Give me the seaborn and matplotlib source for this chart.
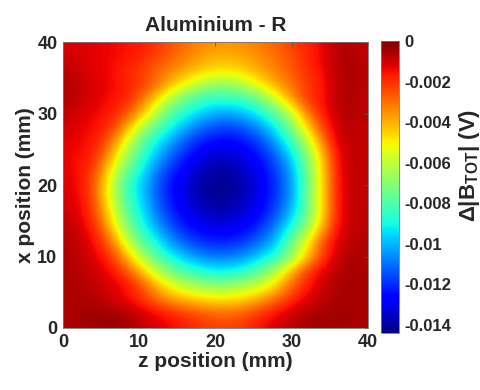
import matplotlib
matplotlib.use("Agg")
import matplotlib.pyplot as plt
import numpy as np
import seaborn as sns

# scan grid in mm; each row is one x position (0 mm at the bottom),
# entries are |delta B_TOT|, in units of 1e-4 V (sign is negative)
z_pos = list(range(0, 41, 2))
x_pos = list(range(0, 41, 2))
mag_x00 = [7, 5, 4, 3, 4, 7, 11, 14, 17, 20, 22, 22, 20, 15, 11, 7, 5, 4, 4, 5, 6]
mag_x02 = [6, 5, 4, 4, 5, 9, 13, 17, 21, 25, 28, 28, 25, 19, 14, 9, 6, 5, 5, 5, 6]
mag_x04 = [6, 6, 6, 10, 14, 19, 28, 36, 41, 45, 47, 47, 44, 38, 28, 20, 12, 8, 5, 5, 6]
mag_x06 = [6, 6, 8, 11, 14, 23, 38, 52, 61, 67, 70, 68, 62, 58, 45, 28, 18, 10, 6, 5, 6]
mag_x08 = [6, 7, 10, 14, 23, 39, 58, 73, 83, 87, 92, 91, 87, 76, 62, 40, 22, 12, 7, 5, 6]
mag_x10 = [6, 8, 12, 19, 36, 59, 78, 89, 99, 106, 109, 108, 104, 95, 87, 70, 44, 24, 9, 6, 6]
mag_x12 = [6, 9, 14, 27, 51, 75, 88, 103, 113, 119, 121, 121, 117, 109, 97, 73, 52, 24, 12, 7, 7]
mag_x14 = [7, 10, 18, 37, 65, 85, 99, 113, 122, 127, 130, 129, 126, 118, 107, 87, 68, 40, 14, 8, 8]
mag_x16 = [9, 12, 22, 45, 73, 89, 106, 119, 128, 134, 137, 136, 132, 125, 114, 98, 76, 47, 16, 8, 8]
mag_x18 = [11, 13, 24, 51, 77, 93, 110, 123, 131, 138, 141, 140, 136, 128, 118, 103, 76, 47, 16, 8, 9]
mag_x20 = [12, 14, 25, 53, 80, 95, 111, 124, 132, 139, 142, 141, 137, 129, 119, 104, 77, 47, 16, 8, 9]
mag_x22 = [13, 15, 22, 46, 72, 89, 106, 119, 128, 136, 140, 139, 135, 127, 117, 102, 75, 46, 15, 8, 9]
mag_x24 = [13, 15, 18, 36, 62, 81, 97, 112, 122, 130, 135, 134, 130, 123, 112, 95, 72, 44, 14, 8, 9]
mag_x26 = [12, 14, 16, 27, 50, 74, 90, 102, 114, 122, 126, 127, 123, 116, 103, 84, 62, 34, 11, 8, 9]
mag_x28 = [10, 13, 15, 19, 35, 59, 78, 89, 102, 111, 116, 117, 113, 105, 91, 72, 47, 24, 9, 7, 9]
mag_x30 = [8, 11, 14, 16, 23, 38, 58, 80, 87, 96, 102, 103, 98, 90, 77, 60, 33, 17, 9, 6, 9]
mag_x32 = [6, 9, 12, 15, 17, 27, 44, 62, 76, 84, 86, 85, 83, 73, 57, 37, 21, 16, 7, 6, 9]
mag_x34 = [6, 8, 11, 14, 17, 21, 28, 41, 53, 63, 69, 68, 61, 49, 38, 30, 22, 17, 8, 6, 8]
mag_x36 = [7, 10, 13, 14, 18, 22, 28, 33, 38, 43, 47, 47, 44, 38, 33, 27, 20, 15, 7, 6, 8]
mag_x38 = [10, 11, 13, 14, 15, 18, 22, 27, 32, 37, 40, 40, 38, 34, 30, 25, 19, 14, 6, 6, 9]
mag_x40 = [12, 12, 13, 14, 15, 17, 20, 25, 29, 33, 35, 35, 34, 31, 27, 23, 18, 14, 7, 7, 10]

cbar_ticks = [0, -0.002, -0.004, -0.006, -0.008, -0.01, -0.012, -0.014]
cbar_labels = ["0", "-0.002", "-0.004", "-0.006", "-0.008", "-0.01", "-0.012", "-0.014"]
axis_ticks = [0, 10, 20, 30, 40]

rows = [mag_x00, mag_x02, mag_x04, mag_x06, mag_x08, mag_x10, mag_x12,
        mag_x14, mag_x16, mag_x18, mag_x20, mag_x22, mag_x24, mag_x26,
        mag_x28, mag_x30, mag_x32, mag_x34, mag_x36, mag_x38, mag_x40]
field = -np.array(rows, dtype=float) * 1e-4

sns.set_theme(style="white")
plt.rcParams["font.family"] = ["Liberation Sans", "DejaVu Sans"]
plt.rcParams["font.weight"] = "bold"
plt.rcParams["mathtext.fontset"] = "custom"
plt.rcParams["mathtext.rm"] = "Liberation Sans:bold"
plt.rcParams["mathtext.it"] = "Liberation Sans:bold"
plt.rcParams["mathtext.bf"] = "Liberation Sans:bold"
text_col = "#262626"

fig = plt.figure(figsize=(4.81, 3.90), dpi=100)
ax = fig.add_axes([0.131, 0.159, 0.634, 0.733])
cax = fig.add_axes([0.792, 0.146, 0.037, 0.749])

half = (z_pos[1] - z_pos[0]) / 2
im = ax.imshow(
    field,
    origin="lower",
    cmap="jet",
    vmin=-0.0144,
    vmax=0.0,
    interpolation="bicubic",
    extent=[z_pos[0] - half, z_pos[-1] + half, x_pos[0] - half, x_pos[-1] + half],
    aspect="auto",
)
ax.set_xlim(0, 40)
ax.set_ylim(0, 40)
ax.set_xticks(axis_ticks)
ax.set_yticks(axis_ticks)
ax.tick_params(direction="in", length=3, width=0.6, colors="#555555",
               labelcolor=text_col, labelsize=13, top=True, right=True, pad=4)
for sp in ax.spines.values():
    sp.set_color("#777777")
    sp.set_linewidth(0.6)
ax.set_xlabel("z position (mm)", fontsize=15, fontweight="bold", color=text_col, labelpad=1)
ax.set_ylabel("x position (mm)", fontsize=15, fontweight="bold", color=text_col, labelpad=2)
ax.set_title("Aluminium - R", fontsize=15, fontweight="bold", color=text_col, pad=8)

cb = fig.colorbar(im, cax=cax)
cb.set_ticks(cbar_ticks)
cb.set_ticklabels(cbar_labels)
cb.outline.set_edgecolor("#777777")
cb.outline.set_linewidth(0.6)
cax.tick_params(direction="in", length=3, width=0.6, colors="#555555",
                labelcolor=text_col, labelsize=12, pad=4)
cb.set_label(r"$\Delta$|B$_{\mathrm{TOT}}$| (V)", fontsize=16, fontweight="bold", color=text_col)
cax.yaxis.set_label_coords(4.25, 0.575)

fig.savefig("out.png", dpi=100)
